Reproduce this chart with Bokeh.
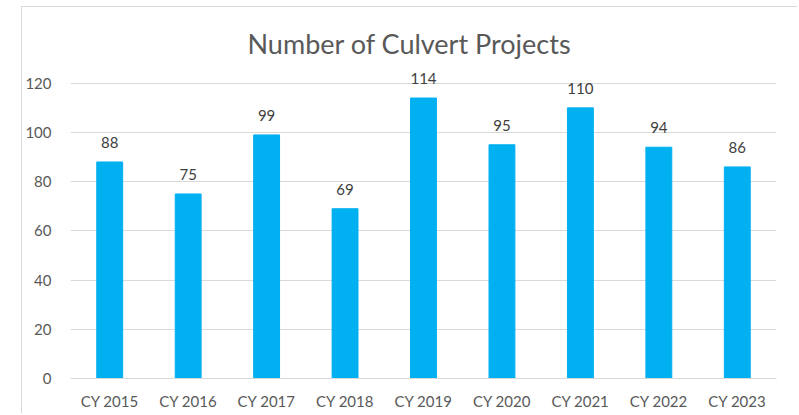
from bokeh.plotting import figure
from bokeh.models import ColumnDataSource, FixedTicker, Title
from bokeh.core.properties import value
from bokeh.embed import file_html
from bokeh.resources import INLINE

categories = ["CY 2015", "CY 2016", "CY 2017", "CY 2018", "CY 2019",
              "CY 2020", "CY 2021", "CY 2022", "CY 2023"]
projects = [88, 75, 99, 69, 114, 95, 110, 94, 86]
y_ticks = [0, 20, 40, 60, 80, 100, 120]

src = ColumnDataSource(dict(cat=categories, val=projects,
                            lbl=[str(v) for v in projects]))

FONT = "Lato"

p = figure(x_range=categories, y_range=(0, 126), width=776, height=407,
           output_backend="svg", toolbar_location=None,
           min_border_left=45, min_border_right=22, min_border_top=61,
           min_border_bottom=36)
p.margin = (6, 0, 0, 21)
p.outline_line_color = None
p.styles = {"border-left": "1px solid #d9d9d9", "border-top": "1px solid #d9d9d9"}

p.vbar(x="cat", top="val", width=0.33, source=src, color="#00B0F0")
p.text(x="cat", y="val", text="lbl", source=src, text_align="center",
       text_baseline="bottom", y_offset=-14, text_font=value(FONT),
       text_font_size="15px", text_color="#404040")

t = Title(text="Number of Culvert Projects", align="left", text_font=FONT,
          text_font_size="27px", text_font_style="normal", text_color="#595959",
          offset=177, standoff=18)
p.add_layout(t, "above")

p.xgrid.grid_line_color = None
p.ygrid.grid_line_color = "#d9d9d9"
p.yaxis.ticker = FixedTicker(ticks=y_ticks)
p.yaxis.axis_line_color = None
p.yaxis.major_tick_line_color = None
p.yaxis.minor_tick_line_color = None
p.yaxis.major_label_standoff = 13
p.xaxis.axis_line_color = "#d9d9d9"
p.xaxis.major_tick_line_color = None
p.xaxis.major_tick_out = 0
p.xaxis.major_label_standoff = 13
for ax in (p.xaxis, p.yaxis):
    ax.major_label_text_font = FONT
    ax.major_label_text_font_size = "15px"
    ax.major_label_text_color = "#595959"

open("out.html", "w").write(file_html(p, INLINE))
